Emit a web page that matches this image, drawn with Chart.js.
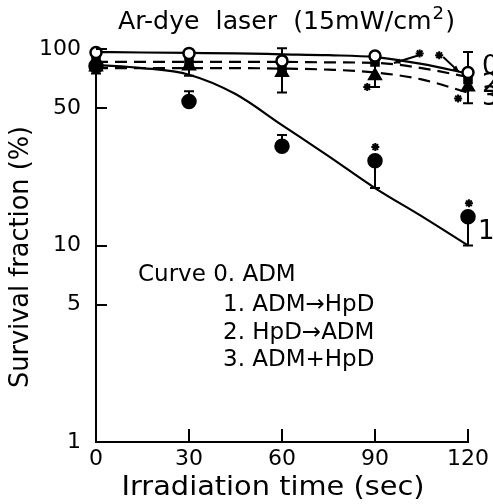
<!DOCTYPE html>
<html>
<head>
<meta charset="utf-8">
<script src="https://cdn.jsdelivr.net/npm/chart.js@4.4.0/dist/chart.umd.min.js"></script>
<style>
html, body { margin: 0; padding: 0; background: #fff; }
canvas { display: block; }
</style>
</head>
<body>
<canvas id="c" width="493" height="504"></canvas>
<script>
// measured points (survival %, irradiation time in sec)
var times = [0, 30, 60, 90, 120]
var adm = [96, 95, 87, 92, 76]            // curve 0, open circles
var admHpd = [82, 54, 32, 27, 14]         // curve 1, filled circles
var hpdAdm = [88, 86, 80, 86, 70]         // curve 2
var admPlusHpd = [81, 82, 76, 73, 64]     // curve 3

var admLo = [75, 73, 60, 64, 53]
var admHi = [100, null, 101, null, 96.5]
var admHpdLo = [null, null, null, 19.6, 10]
var admHpdHi = [null, 61, 36.5, null, null]

// fitted curves
var fitTimes = [0, 15, 30, 45, 60, 75, 90, 105, 120]
var fit0 = [96.5, 96, 95.5, 95, 94, 93, 91, 84, 75]
var fit1 = [83, 80, 74, 59, 41, 28.5, 19.6, 14.1, 10]
var fit2 = [86, 86, 86, 86, 86, 85.5, 85, 80, 72]
var fit3 = [80, 80, 80, 80, 79.5, 78.5, 76, 70, 60]

// significance marks
var starT = [87.5, 104.4, 110.7, 116.8, 90.1, 120.3]
var starV = [64, 95, 93, 56, 31.7, 16.4]

var xTicks = [0, 30, 60, 90, 120]
var yTicks = [1, 5, 10, 50, 100]

var curveNames = ['0', '1', '2', '3']
var curveLabelV = [81, 11.7, 65.6, 56]
var legendLines = ['Curve 0. ADM', '1. ADM\u2192HpD', '2. HpD\u2192ADM', '3. ADM+HpD']
var titleText = ['Ar-dye  laser  (15mW/cm', '2', ')']
var xTitle = 'Irradiation time (sec)'
var yTitle = 'Survival fraction (%)'

var FONT = '"DejaVu Sans", sans-serif'

function xy(t, v) {
	return t.map(function (x, i) { return { x: x, y: v[i] } })
}

function fitSet(v, dash) {
	return {
		type: 'line', data: xy(fitTimes, v), borderColor: '#000', borderWidth: 2.2,
		borderDash: dash, pointRadius: 0, cubicInterpolationMode: 'monotone', order: 10
	}
}

function pointSet(v, style, r, fill, order) {
	return {
		type: 'line', data: xy(times, v), showLine: false, pointStyle: style,
		pointRadius: r, pointBackgroundColor: fill, pointBorderColor: '#000',
		pointBorderWidth: 2.5, clip: false, order: order
	}
}

// text squeezed/stretched to a given width
function fitText(ctx, txt, x, y, w, size, rot) {
	ctx.save()
	ctx.font = size + 'px ' + FONT
	var m = ctx.measureText(txt).width
	ctx.translate(x, y)
	if (rot) ctx.rotate(rot)
	ctx.scale(w / m, 1)
	ctx.textAlign = 'center'
	ctx.textBaseline = 'middle'
	ctx.fillText(txt, 0, 0)
	ctx.restore()
}

var errBars = [[adm, admLo, admHi], [admHpd, admHpdLo, admHpdHi]]

var decor = {
	id: 'decor',
	beforeDatasetsDraw: function (chart) {
		var ctx = chart.ctx, xs = chart.scales.x, ys = chart.scales.y
		ctx.save()
		ctx.strokeStyle = '#000'
		ctx.lineWidth = 2
		errBars.forEach(function (e) {
			times.forEach(function (t, i) {
				var lo = e[1][i] == null ? e[0][i] : e[1][i]
				var hi = e[2][i] == null ? e[0][i] : e[2][i]
				var px = xs.getPixelForValue(t)
				var y1 = ys.getPixelForValue(lo), y2 = ys.getPixelForValue(hi)
				ctx.beginPath()
				ctx.moveTo(px, y1); ctx.lineTo(px, y2)
				if (e[1][i] != null) { ctx.moveTo(px - 5, y1); ctx.lineTo(px + 5, y1) }
				if (e[2][i] != null) { ctx.moveTo(px - 5, y2); ctx.lineTo(px + 5, y2) }
				ctx.stroke()
			})
		})
		// little arrows from the significance marks
		var arrows = [[104.4, 93.2, 96.1, 84.9], [112, 91, 117.1, 76.5]]
		arrows.forEach(function (a) {
			var x1 = xs.getPixelForValue(a[0]), y1 = ys.getPixelForValue(a[1])
			var x2 = xs.getPixelForValue(a[2]), y2 = ys.getPixelForValue(a[3])
			ctx.beginPath(); ctx.moveTo(x1, y1); ctx.lineTo(x2, y2); ctx.stroke()
			var ang = Math.atan2(y2 - y1, x2 - x1)
			ctx.beginPath()
			ctx.moveTo(x2, y2)
			ctx.lineTo(x2 - 7 * Math.cos(ang - 0.4), y2 - 7 * Math.sin(ang - 0.4))
			ctx.lineTo(x2 - 7 * Math.cos(ang + 0.4), y2 - 7 * Math.sin(ang + 0.4))
			ctx.closePath(); ctx.fillStyle = '#000'; ctx.fill()
		})
		ctx.restore()
	},
	afterDraw: function (chart) {
		var ctx = chart.ctx, xs = chart.scales.x, ys = chart.scales.y, a = chart.chartArea
		ctx.save()
		ctx.strokeStyle = '#000'
		ctx.fillStyle = '#000'
		ctx.lineWidth = 2
		// inward tick marks
		ctx.beginPath()
		yTicks.forEach(function (v) {
			var py = Math.round(ys.getPixelForValue(v))
			ctx.moveTo(a.left, py); ctx.lineTo(a.left + 11, py)
		})
		xTicks.forEach(function (t) {
			var px = Math.round(xs.getPixelForValue(t))
			ctx.moveTo(px, a.bottom); ctx.lineTo(px, a.bottom - 13)
		})
		ctx.stroke()

		// axis titles
		fitText(ctx, xTitle, 273, 488, 303, 27)
		fitText(ctx, yTitle, 21, 257, 262, 26, -Math.PI / 2)

		// title with superscript
		ctx.textBaseline = 'alphabetic'
		ctx.textAlign = 'left'
		ctx.font = '25px ' + FONT
		var w1 = ctx.measureText(titleText[0]).width, w3 = ctx.measureText(titleText[2]).width
		ctx.font = '18px ' + FONT
		var w2 = ctx.measureText(titleText[1]).width
		ctx.save()
		ctx.translate(118, 29)
		ctx.scale(337 / (w1 + w2 + w3 + 2), 1)
		ctx.font = '25px ' + FONT
		ctx.fillText(titleText[0], 0, 0)
		ctx.fillText(titleText[2], w1 + w2 + 2, 0)
		ctx.font = '18px ' + FONT
		ctx.fillText(titleText[1], w1 + 1, -10)
		ctx.restore()

		// legend text
		ctx.textBaseline = 'middle'
		ctx.font = '23px ' + FONT
		ctx.fillText(legendLines[0], 138, 275)
		ctx.fillText(legendLines[1], 223, 305)
		ctx.fillText(legendLines[2], 223, 333)
		ctx.fillText(legendLines[3], 223, 360)

		// curve numbers at the right edge
		ctx.font = '26px ' + FONT
		curveNames.forEach(function (n, i) {
			ctx.fillText(n, n == '1' ? a.right + 10 : a.right + 14, ys.getPixelForValue(curveLabelV[i]))
		})
		ctx.restore()
	}
}

var chart = new Chart(document.getElementById('c'), {
	type: 'line',
	data: {
		datasets: [
			fitSet(fit0, []),
			fitSet(fit1, []),
			fitSet(fit2, [12, 7]),
			fitSet(fit3, [12, 7]),
			pointSet(admPlusHpd, 'triangle', 6.5, '#000', 4),
			pointSet(hpdAdm, 'rect', 5, '#000', 3),
			pointSet(admHpd, 'circle', 6.5, '#000', 2),
			pointSet(adm, 'circle', 5.5, '#fff', 1),
			{
				type: 'line', data: xy(starT, starV), showLine: false, pointStyle: 'star',
				pointRadius: 4, pointBorderColor: '#000', pointBorderWidth: 2, clip: false, order: 0
			}
		]
	},
	options: {
		responsive: false,
		animation: false,
		devicePixelRatio: 1,
		layout: { padding: { top: 49, right: 21, bottom: 0, left: 0 } },
		plugins: { legend: { display: false }, tooltip: { enabled: false } },
		scales: {
			x: {
				type: 'linear', min: 0, max: 120,
				afterBuildTicks: function (s) { s.ticks = xTicks.map(function (v) { return { value: v } }) },
				afterFit: function (s) { s.height = 62 },
				grid: { display: false, drawTicks: false },
				border: { display: true, color: '#000', width: 2 },
				ticks: { color: '#000', font: { family: FONT, size: 22 }, padding: 4, maxRotation: 0 }
			},
			y: {
				type: 'logarithmic', min: 1, max: 100,
				afterBuildTicks: function (s) { s.ticks = yTicks.map(function (v) { return { value: v } }) },
				afterFit: function (s) { s.width = 96 },
				grid: { display: false, drawTicks: false },
				border: { display: true, color: '#000', width: 2 },
				ticks: {
					color: '#000', font: { family: FONT, size: 22 }, padding: 15,
					callback: function (v) { return String(v) }
				}
			}
		}
	},
	plugins: [decor]
})
</script>
</body>
</html>
